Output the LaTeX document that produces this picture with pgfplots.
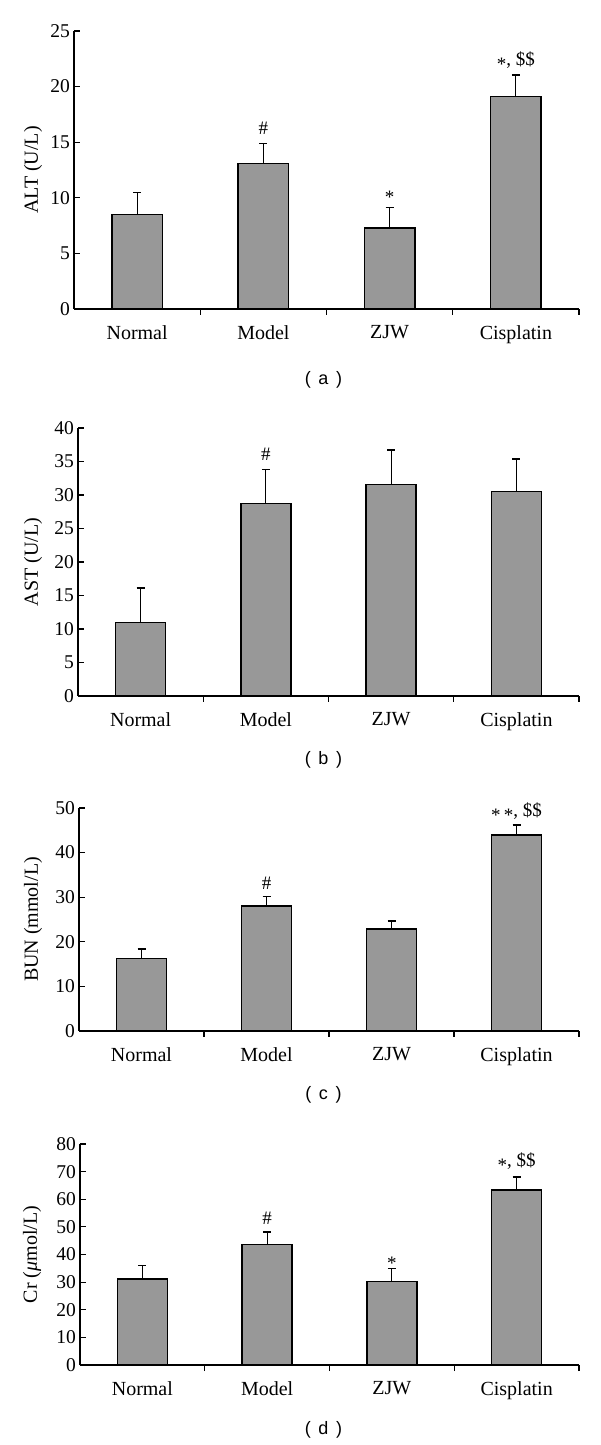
\documentclass[border=0pt]{standalone}
\usepackage{fontspec}
\setmainfont{Liberation Serif}
\setsansfont{Liberation Sans}
\usepackage{pgfplots}
\pgfplotsset{compat=1.18}
\definecolor{barfill}{RGB}{152,152,152}
\newcommand{\sig}{\raisebox{-0.25em}{*}}
\newcommand{\sub}[1]{(\hspace{0.42em}#1\hspace{0.42em})}
\tikzset{note/.style={font=\fontsize{19}{22}\selectfont, anchor=base},
  subcap/.style={font=\sffamily\fontsize{18}{22}\selectfont}}
\pgfplotsset{
  panel/.style={
    scale only axis,
    clip=false,
    axis x line=bottom, axis y line=left,
    axis line style={-, line width=1.3pt, black},
    xmin=-0.5, xmax=3.5, ymin=0,
    xtick={0,1,2,3},
    xticklabels={Normal,Model,ZJW,Cisplatin},
    major x tick style={draw=none},
    minor xtick={0.5,1.5,2.5,3.5},
    tick align=inside,
    major tick length=6pt, minor tick length=6pt,
    tick style={line width=1.1pt, black},
    x tick label style={font=\fontsize{20}{24}\selectfont, yshift=-7pt},
    y tick label style={font=\fontsize{19.5}{22}\selectfont, xshift=-0.5pt},
    /pgf/number format/assume math mode=true,
    ylabel style={font=\fontsize{20}{24}\selectfont, anchor=center},
    ybar, bar width=0.4,
  },
  bars/.style={fill=barfill, draw=black, line width=1.5pt,
    error bars/.cd, y dir=plus, y explicit, error mark=|,
    error bar style={line width=1.2pt, black},
    error mark options={line width=1.4pt, mark size=4pt, black}},
}
\begin{document}
\begin{tikzpicture}[x=1pt,y=1pt]
\useasboundingbox (0,0) rectangle (600,1445);
% (a)
\begin{axis}[panel, at={(74pt,1136pt)}, anchor=south west,
  width=505pt, height=278pt, ymax=25, ytick={0,5,...,25},
  ylabel={ALT (U/L)}, ylabel style={at={(axis description cs:-0.0812,0.5)}}]
\addplot[bars] coordinates {(0,8.5) +- (0,1.95) (1,13.1) +- (0,1.8) (2,7.3) +- (0,1.8) (3,19.1) +- (0,1.95)};
\node[note, yshift=9pt] at (axis cs:1,14.9) {\#};
\node[note, yshift=9pt] at (axis cs:2,9.1) {\sig};
\node[note, yshift=10pt] at (axis cs:3,21.0) {\sig, \$\$};
\end{axis}
% (b)
\begin{axis}[panel, at={(78pt,749pt)}, anchor=south west,
  width=501pt, height=268pt, ymax=40, ytick={0,5,...,40},
  ylabel={AST (U/L)}, ylabel style={at={(axis description cs:-0.0898,0.5)}}]
\addplot[bars] coordinates {(0,11.0) +- (0,5.1) (1,28.75) +- (0,5.05) (2,31.6) +- (0,5.1) (3,30.5) +- (0,4.9)};
\node[note, yshift=9pt] at (axis cs:1,33.8) {\#};
\end{axis}
% (c)
\begin{axis}[panel, at={(79pt,414pt)}, anchor=south west,
  width=500pt, height=223pt, ymax=50, ytick={0,10,...,50},
  ylabel={BUN (mmol/L)}, ylabel style={at={(axis description cs:-0.092,0.5)}}]
\addplot[bars] coordinates {(0,16.3) +- (0,2.1) (1,28.0) +- (0,2.2) (2,22.9) +- (0,1.8) (3,44.0) +- (0,2.2)};
\node[note, yshift=7pt] at (axis cs:1,30.2) {\#};
\node[note, yshift=8pt] at (axis cs:3,46.2) {\sig\,\sig, \$\$};
\end{axis}
% (d)
\begin{axis}[panel, at={(80pt,80pt)}, anchor=south west,
  width=499pt, height=221pt, ymax=80, ytick={0,10,...,80},
  ylabel={Cr ({\itshape μ}mol/L)}, ylabel style={at={(axis description cs:-0.0962,0.5)}}]
\addplot[bars] coordinates {(0,31.1) +- (0,4.9) (1,43.6) +- (0,4.6) (2,30.2) +- (0,4.7) (3,63.3) +- (0,4.8)};
\node[note, yshift=7pt] at (axis cs:1,48.2) {\#};
\node[note, yshift=4pt] at (axis cs:2,34.9) {\sig};
\node[note, yshift=10pt] at (axis cs:3,68.1) {\sig, \$\$};
\end{axis}
\node[subcap] at (323.5,1065) {\sub{a}};
\node[subcap] at (323.5,685) {\sub{b}};
\node[subcap] at (323.5,350) {\sub{c}};
\node[subcap] at (323.5,15) {\sub{d}};
\end{tikzpicture}
\end{document}
